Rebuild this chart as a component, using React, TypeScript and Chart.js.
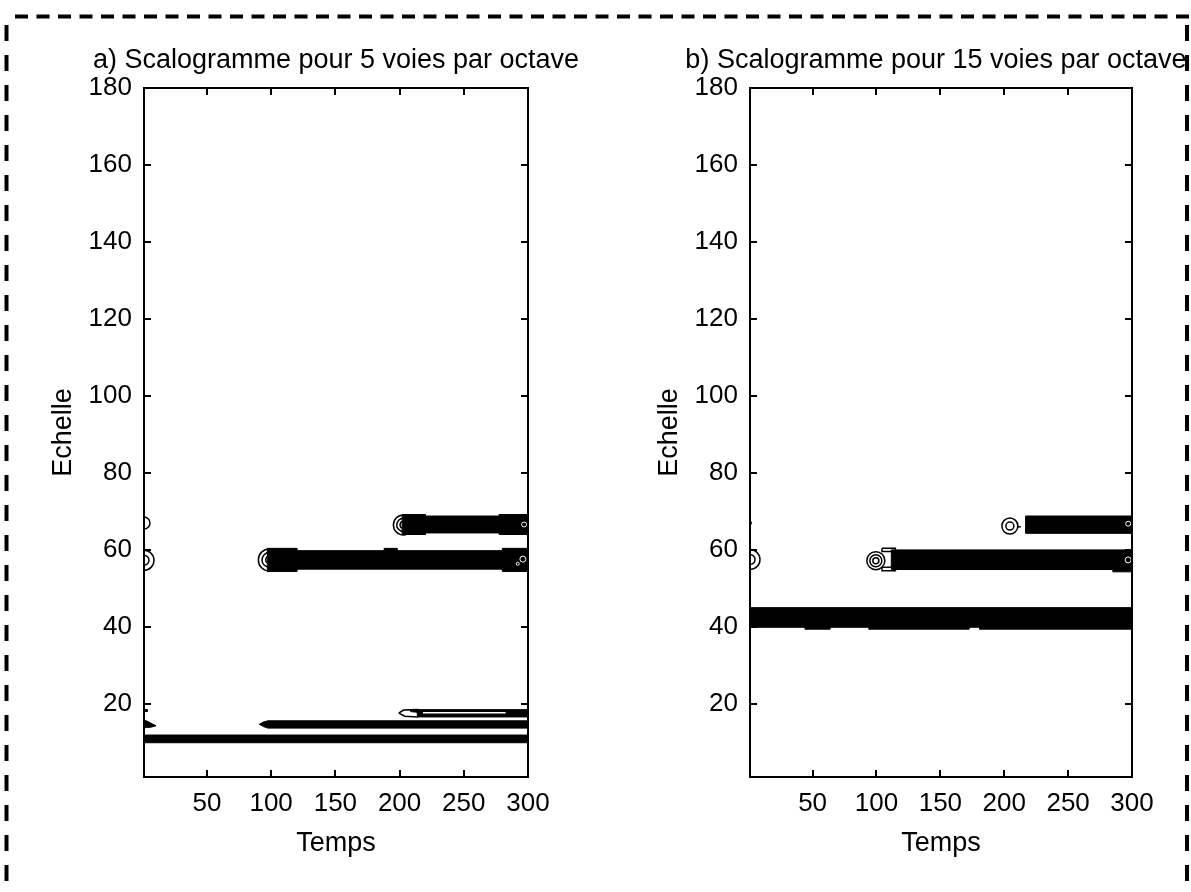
import { useEffect, useRef } from "react";
import { Chart, registerables } from "chart.js";

Chart.register(...registerables);

// ---- axes ----
const tempsRange = [1, 300];
const echelleRange = [1, 180];
const tempsTicks = [50, 100, 150, 200, 250, 300];
const echelleTicks = [20, 40, 60, 80, 100, 120, 140, 160, 180];

const titleA = "a) Scalogramme pour 5 voies par octave";
const titleB = "b) Scalogramme pour 15 voies par octave";
const xAxisLabel = "Temps";
const yAxisLabel = "Echelle";

// ---- panel a: filled contour regions (Temps, Echelle) ----
const aBand10X = [1, 300, 300, 1];
const aBand10Y = [11.9, 11.9, 9.9, 9.9];

const aBand14X = [90.8, 94, 97.5, 300, 300, 97.5, 94];
const aBand14Y = [14.7, 15.3, 15.6, 15.6, 13.7, 13.7, 14.1];

const aWedgeX = [1, 5, 10.4, 6, 1];
const aWedgeY = [15.9, 15.2, 14.3, 13.9, 13.9];

const aNickX = [1, 3.5, 3.5, 1];
const aNickY = [18.5, 18.5, 18.0, 18.0];

const aBand17X = [208.6, 300, 300, 214, 214, 208.6];
const aBand17Y = [18.5, 18.5, 16.6, 16.6, 17.8, 18.0];

const aLeaf17X = [199.4, 203, 214, 214, 204, 199.4];
const aLeaf17Y = [17.6, 18.4, 18.5, 16.6, 16.8, 17.6];

const aGap17X = [218.2, 282.6];
const aGap17Y = [17.7, 17.7];

const aBand57X = [97, 120, 120, 188, 188, 198, 198, 280, 280, 300, 300, 280, 280, 120, 120, 97];
const aBand57Y = [60.4, 60.4, 59.8, 59.8, 60.4, 60.4, 59.8, 59.8, 60.4, 60.4, 54.4, 54.4, 55.0, 55.0, 54.4, 54.4];

const aBand66X = [202, 220, 220, 277.5, 277.5, 300, 300, 277.5, 277.5, 220, 220, 202];
const aBand66Y = [69.2, 69.2, 68.8, 68.8, 69.2, 69.2, 64.0, 64.0, 64.4, 64.4, 64.0, 64.0];

// ring-shaped contour starts (centres)
const aRingX = [98.6, 203, 1, 1];
const aRingY = [57.4, 66.5, 57.3, 67];

// small closed contours inside the bands at the right edge
const aInnerX = [296, 297, 292];
const aInnerY = [57.6, 66.6, 56.4];

// ---- panel b ----
const bBand42X = [1, 300, 300, 180.6, 180.6, 172.4, 172.4, 94, 94, 63.5, 63.5, 44, 44, 1];
const bBand42Y = [45.0, 45.0, 39.4, 39.4, 39.9, 39.9, 39.4, 39.4, 39.9, 39.9, 39.4, 39.4, 39.9, 39.9];

const bBand57X = [111.6, 300, 300, 285, 285, 111.6];
const bBand57Y = [60.0, 60.0, 54.3, 54.3, 54.9, 54.9];

const bBand66X = [216.7, 300, 300, 216.7];
const bBand66Y = [68.8, 68.8, 64.3, 64.3];

const bStripTopX = [104.3, 114.8, 114.8, 104.3, 104.3];
const bStripTopY = [60.4, 60.4, 59.6, 59.6, 60.4];
const bStripLowX = [104.3, 114.8, 114.8, 104.3, 104.3];
const bStripLowY = [55.5, 55.5, 54.6, 54.6, 55.5];

const bDashX = [210, 213];
const bDashY = [66.0, 66.0];

const bRingX = [99.5, 204.4, 1];
const bRingY = [57.2, 66.2, 57.5];

const bDotX = [1];
const bDotY = [67];

const bInnerX = [297, 297];
const bInnerY = [57.4, 66.8];

// ---- styling ----
const FONT = "'Liberation Sans', Arial, Helvetica, sans-serif";
const INK = "#000";

const pts = (xs: number[], ys: number[]) => xs.map((x, i) => ({ x, y: ys[i] }));

function solid(xs: number[], ys: number[]) {
  const data = pts(xs, ys);
  data.push(data[0]);
  return {
    data,
    fill: "shape",
    backgroundColor: INK,
    borderColor: INK,
    borderWidth: 1,
    pointRadius: 0,
    tension: 0,
    order: 1,
  };
}

function stroke(xs: number[], ys: number[], color: string, width: number) {
  return {
    data: pts(xs, ys),
    fill: false,
    borderColor: color,
    borderWidth: width,
    pointRadius: 0,
    tension: 0,
    order: 0,
  };
}

// concentric hollow circles; outer radius and ring count are drawing styles
function rings(
  xs: number[],
  ys: number[],
  outer: number[],
  count: number[],
  color = INK,
  order = 2,
  width = 1.5
) {
  const data: { x: number; y: number }[] = [];
  const radius: number[] = [];
  xs.forEach((x, i) => {
    for (let k = 0; k < count[i]; k++) {
      data.push({ x, y: ys[i] });
      radius.push((outer[i] * (count[i] - k)) / count[i]);
    }
  });
  return {
    data,
    showLine: false,
    pointStyle: "circle",
    pointRadius: radius,
    pointBackgroundColor: "rgba(0,0,0,0)",
    pointBorderColor: color,
    pointBorderWidth: width,
    order,
  };
}

function dots(xs: number[], ys: number[], r: number) {
  return {
    data: pts(xs, ys),
    showLine: false,
    pointStyle: "circle",
    pointRadius: r,
    pointBackgroundColor: INK,
    pointBorderColor: INK,
    pointBorderWidth: 0,
    order: 0,
  };
}

const panelAData = [
  rings(aRingX, aRingY, [11, 10, 10, 6], [3, 3, 2, 1]),
  solid(aBand10X, aBand10Y),
  solid(aBand14X, aBand14Y),
  solid(aWedgeX, aWedgeY),
  solid(aNickX, aNickY),
  stroke(aLeaf17X, aLeaf17Y, INK, 1.5),
  solid(aBand17X, aBand17Y),
  stroke(aGap17X, aGap17Y, "#fff", 1.5),
  solid(aBand57X, aBand57Y),
  solid(aBand66X, aBand66Y),
  rings(aInnerX, aInnerY, [3, 2.5, 1.5], [1, 1, 1], "#fff", 0, 1),
];

const panelBData = [
  rings(bRingX, bRingY, [9, 8, 10], [3, 2, 2]),
  solid(bBand42X, bBand42Y),
  solid(bBand57X, bBand57Y),
  solid(bBand66X, bBand66Y),
  stroke(bStripTopX, bStripTopY, INK, 1.5),
  stroke(bStripLowX, bStripLowY, INK, 1.5),
  stroke(bDashX, bDashY, INK, 1.5),
  dots(bDotX, bDotY, 2),
  rings(bInnerX, bInnerY, [3, 2.5], [1, 1], "#fff", 0, 1),
];

// box with inward ticks on all four sides
const frame = {
  id: "frame",
  afterDatasetsDraw(chart: any) {
    const { ctx, chartArea } = chart;
    const { left, right, top, bottom } = chartArea;
    const xs = chart.scales.x;
    const ys = chart.scales.y;
    const len = 7;
    ctx.save();
    ctx.strokeStyle = INK;
    ctx.lineWidth = 2;
    ctx.beginPath();
    for (const t of xs.ticks) {
      const p = Math.round(xs.getPixelForValue(t.value));
      ctx.moveTo(p, bottom);
      ctx.lineTo(p, bottom - len);
      ctx.moveTo(p, top);
      ctx.lineTo(p, top + len);
    }
    for (const t of ys.ticks) {
      const p = Math.round(ys.getPixelForValue(t.value));
      ctx.moveTo(left, p);
      ctx.lineTo(left + len, p);
      ctx.moveTo(right, p);
      ctx.lineTo(right - len, p);
    }
    ctx.stroke();
    ctx.strokeRect(left, top, right - left, bottom - top);
    ctx.restore();
  },
};

const panelTitle = {
  id: "panelTitle",
  afterDraw(chart: any, _args: any, opts: any) {
    const { ctx, chartArea } = chart;
    ctx.save();
    ctx.font = `${opts.size}px ${FONT}`;
    ctx.fillStyle = INK;
    ctx.textAlign = "center";
    ctx.textBaseline = "alphabetic";
    ctx.fillText(opts.text, (chartArea.left + chartArea.right) / 2 + opts.shift, opts.baseline);
    ctx.restore();
  },
};

const pageBorder = {
  id: "pageBorder",
  afterDraw(chart: any) {
    const { ctx } = chart;
    ctx.save();
    ctx.strokeStyle = INK;
    ctx.lineWidth = 4;
    ctx.setLineDash([13, 8.5]);
    ctx.beginPath();
    ctx.moveTo(15, 16.5);
    ctx.lineTo(1189, 16.5);
    ctx.stroke();
    ctx.setLineDash([16, 14]);
    ctx.beginPath();
    ctx.moveTo(6.5, 25);
    ctx.lineTo(6.5, 900);
    ctx.moveTo(1187, 25);
    ctx.lineTo(1187, 900);
    ctx.stroke();
    ctx.restore();
  },
};

type Panel = {
  datasets: any[];
  padLeft: number;
  padRight: number;
  yWidth: number;
  yTitlePad: number;
  title: string;
  titleShift: number;
  border: boolean;
};

function buildConfig(p: Panel): any {
  const tickFont = { family: FONT, size: 26 };
  const titleFont = { family: FONT, size: 27 };
  return {
    type: "line",
    data: { datasets: p.datasets },
    options: {
      animation: false,
      responsive: false,
      devicePixelRatio: 1,
      events: [],
      layout: { padding: { left: p.padLeft, right: p.padRight, top: 88, bottom: 0 } },
      plugins: {
        legend: { display: false },
        tooltip: { enabled: false },
        title: { display: false },
        panelTitle: { text: p.title, shift: p.titleShift, baseline: 68, size: 27 },
      },
      scales: {
        x: {
          type: "linear",
          min: tempsRange[0],
          max: tempsRange[1],
          grid: { display: false, drawTicks: false },
          border: { display: false },
          afterBuildTicks: (s: any) => {
            s.ticks = tempsTicks.map((v) => ({ value: v }));
          },
          afterFit: (s: any) => {
            s.height = 115;
          },
          ticks: { font: tickFont, color: INK, padding: 11, maxRotation: 0, autoSkip: false },
          title: {
            display: true,
            text: xAxisLabel,
            font: titleFont,
            color: INK,
            padding: { top: 0, bottom: 32 },
          },
        },
        y: {
          type: "linear",
          min: echelleRange[0],
          max: echelleRange[1],
          grid: { display: false, drawTicks: false },
          border: { display: false },
          afterBuildTicks: (s: any) => {
            s.ticks = echelleTicks.map((v) => ({ value: v }));
          },
          afterFit: (s: any) => {
            s.width = p.yWidth;
          },
          ticks: { font: tickFont, color: INK, padding: 12, autoSkip: false },
          title: {
            display: true,
            text: yAxisLabel,
            font: titleFont,
            color: INK,
            padding: { top: p.yTitlePad, bottom: 0 },
          },
        },
      },
    },
    plugins: p.border ? [frame, panelTitle, pageBorder] : [frame, panelTitle],
  };
}

export default function App() {
  const aRef = useRef<HTMLCanvasElement>(null);
  const bRef = useRef<HTMLCanvasElement>(null);

  useEffect(() => {
    const a = new Chart(
      aRef.current!,
      buildConfig({
        datasets: panelAData,
        padLeft: 0,
        padRight: 663,
        yWidth: 144,
        yTitlePad: 47,
        title: titleA,
        titleShift: 0,
        border: true,
      })
    );
    const b = new Chart(
      bRef.current!,
      buildConfig({
        datasets: panelBData,
        padLeft: 595,
        padRight: 59,
        yWidth: 155,
        yTitlePad: 58.5,
        title: titleB,
        titleShift: -5,
        border: false,
      })
    );
    return () => {
      a.destroy();
      b.destroy();
    };
  }, []);

  return (
    <div
      style={{
        position: "absolute",
        left: 0,
        top: 0,
        width: 1191,
        height: 892,
        background: "#fff",
        overflow: "hidden",
      }}
    >
      <canvas ref={aRef} width={1191} height={892} style={{ position: "absolute", left: 0, top: 0 }} />
      <canvas ref={bRef} width={1191} height={892} style={{ position: "absolute", left: 0, top: 0 }} />
    </div>
  );
}
